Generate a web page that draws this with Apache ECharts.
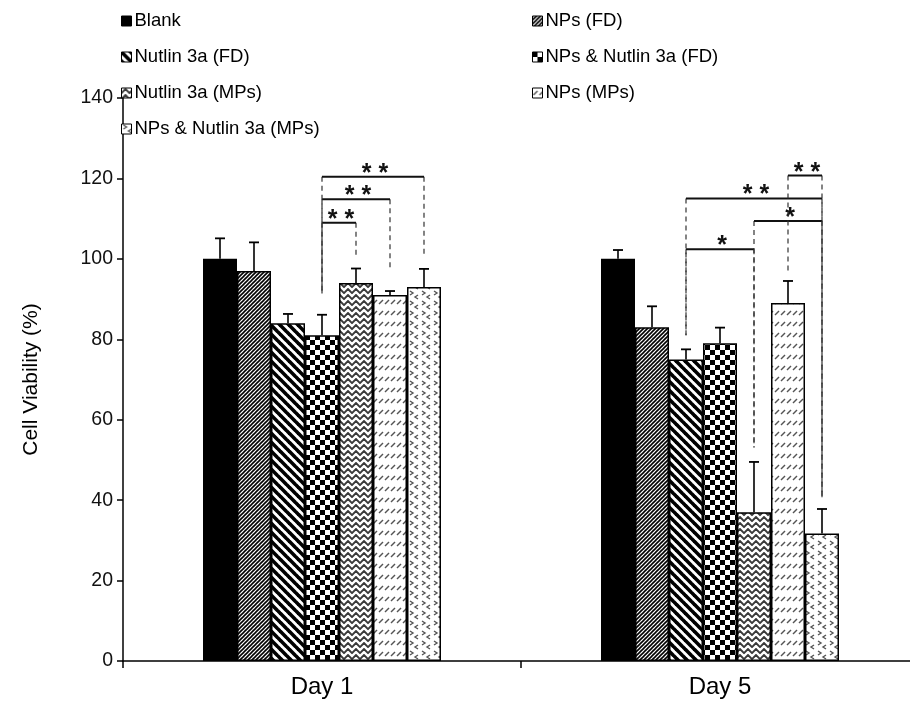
<!DOCTYPE html>
<html>
<head>
<meta charset="utf-8">
<script src="https://cdn.jsdelivr.net/npm/echarts@6/dist/echarts.min.js"></script>
<style>
html,body{margin:0;padding:0;background:#fff;}
#chart{width:910px;height:706px;}
</style>
</head>
<body>
<div id="chart"></div>
<script>
// ---- data ----
const categories = ['Day 1', 'Day 5'];
const seriesNames = ['Blank', 'NPs (FD)', 'Nutlin 3a (FD)', 'NPs & Nutlin 3a (FD)', 'Nutlin 3a (MPs)', 'NPs (MPs)', 'NPs & Nutlin 3a (MPs)'];
const blankVal = [100, 100];
const blankErr = [5.1, 2.2];
const npsFdVal = [97, 83];
const npsFdErr = [7.1, 5.2];
const nutFdVal = [84, 75];
const nutFdErr = [2.3, 2.5];
const npsNutFdVal = [81, 79];
const npsNutFdErr = [5.1, 3.9];
const nutMpVal = [94, 37];
const nutMpErr = [3.6, 12.5];
const npsMpVal = [91, 89];
const npsMpErr = [1.0, 5.5];
const npsNutMpVal = [93, 31.7];
const npsNutMpErr = [4.5, 6.1];
const yTicks = [0, 20, 40, 60, 80, 100, 120, 140];

// significance brackets (category, bar from, bar to, level, lower ends, label)
const sigCat = [0, 0, 0, 1, 1, 1, 1];
const sigFrom = [3, 3, 3, 2, 2, 4, 5];
const sigTo = [4, 5, 6, 4, 6, 6, 6];
const sigLevel = [109, 114.8, 120.4, 102.4, 115, 109.4, 120.7];
const sigFromEnd = [91.4, 91.4, 91.4, 81, 81, 53.1, 96.4];
const sigToEnd = [100.5, 97.2, 100.5, 53.1, 40.7, 40.7, 40.7];
const sigLabel = ['* *', '* *', '* *', '*', '* *', '*', '* *'];

const values = [blankVal, npsFdVal, nutFdVal, npsNutFdVal, nutMpVal, npsMpVal, npsNutMpVal];
const errors = [blankErr, npsFdErr, nutFdErr, npsNutFdErr, nutMpErr, npsMpErr, npsNutMpErr];

// ---- patterns ----
const BAR_W = 34;
function tile(w, h, draw) {
  const c = document.createElement('canvas');
  c.width = w; c.height = h;
  const g = c.getContext('2d');
  g.fillStyle = '#fff'; g.fillRect(0, 0, w, h);
  draw(g);
  return { image: c, repeat: 'repeat' };
}
function line(g, x1, y1, x2, y2) { g.beginPath(); g.moveTo(x1, y1); g.lineTo(x2, y2); g.stroke(); }
const patterns = [
  '#000',
  tile(4, 4, g => { g.strokeStyle = '#000'; g.lineWidth = 1.6;
    line(g, -1, 5, 5, -1); line(g, -3, 3, 3, -3); line(g, 1, 7, 7, 1); }),
  tile(9, 9, g => { g.strokeStyle = '#000'; g.lineWidth = 3.6;
    for (const k of [-9, 0, 9]) line(g, k - 1, -1, k + 10, 10); }),
  tile(10, 10, g => { g.fillStyle = '#000'; g.fillRect(0, 0, 5, 5); g.fillRect(5, 5, 5, 5); }),
  tile(8, 6, g => { g.strokeStyle = '#3a3a3a'; g.lineWidth = 1.9;
    g.beginPath(); g.moveTo(-2, 7); g.lineTo(0, 5); g.lineTo(4, 1); g.lineTo(8, 5); g.lineTo(10, 7); g.stroke();
    g.beginPath(); g.moveTo(-2, 1); g.lineTo(0, -1); g.stroke(); g.beginPath(); g.moveTo(8, -1); g.lineTo(10, 1); g.stroke(); }),
  tile(6, 11, g => { g.strokeStyle = '#555'; g.lineWidth = 1.5; line(g, 1, 7, 5, 3); }),
  tile(12, 10, g => { g.strokeStyle = '#555'; g.lineWidth = 1.4;
    g.beginPath(); g.moveTo(2, 1); g.lineTo(5, 3); g.lineTo(2, 5); g.stroke();
    g.beginPath(); g.moveTo(10, 5); g.lineTo(7, 7); g.lineTo(10, 9); g.stroke(); })
];

// ---- series ----
const FONT = '"Liberation Sans", Arial, sans-serif';
const series = seriesNames.map((name, k) => ({
  name, type: 'bar', barWidth: BAR_W, barGap: '0%',
  data: values[k],
  itemStyle: { color: patterns[k], borderColor: '#000', borderWidth: 1.5 },
  emphasis: { disabled: true }, z: 2
}));

const errData = [];
values.forEach((arr, k) => arr.forEach((v, c) => errData.push([c, v + errors[k][c], k, v])));

series.push({
  type: 'custom', name: 'err', z: 3, silent: true,
  encode: { x: 0, y: 1 },
  data: errData,
  renderItem(params, api) {
    const cat = api.value(0), top = api.value(1), k = api.value(2), v = api.value(3);
    const cx = api.coord([cat, 0])[0] + (k - 3) * BAR_W;
    const yb = api.coord([cat, v])[1], yt = api.coord([cat, top])[1];
    return { type: 'group', children: [
      { type: 'line', shape: { x1: cx, y1: yb, x2: cx, y2: yt }, style: { stroke: '#000', lineWidth: 1.6 } },
      { type: 'line', shape: { x1: cx - 5, y1: yt, x2: cx + 5, y2: yt }, style: { stroke: '#000', lineWidth: 1.8 } }
    ] };
  }
});

series.push({
  type: 'custom', name: 'sig', z: 4, silent: true,
  encode: { x: 0, y: 1 },
  data: sigCat.map((c, i) => [c, sigLevel[i]]),
  renderItem(params, api) {
    const i = params.dataIndex;
    const cat = sigCat[i];
    const base = api.coord([cat, 0])[0];
    const x1 = base + (sigFrom[i] - 3) * BAR_W;
    const x2 = base + (sigTo[i] - 3) * BAR_W;
    const y = api.coord([cat, sigLevel[i]])[1];
    const yA = api.coord([cat, sigFromEnd[i]])[1];
    const yB = api.coord([cat, sigToEnd[i]])[1];
    const dash = { stroke: '#333', lineWidth: 1.2, lineDash: [5, 4] };
    return { type: 'group', children: [
      { type: 'line', shape: { x1: x1, y1: y, x2: x1, y2: yA }, style: dash },
      { type: 'line', shape: { x1: x2, y1: y, x2: x2, y2: yB }, style: dash },
      { type: 'line', shape: { x1: x1, y1: y, x2: x2, y2: y }, style: { stroke: '#111', lineWidth: 2 } },
      { type: 'text', style: { text: sigLabel[i], x: (x1 + x2) / 2 + 2, y: y - 3, align: 'center', verticalAlign: 'middle',
          fontSize: 25, fontWeight: 'bold', fontFamily: FONT, fill: '#111' } }
    ] };
  }
});

const legendCommon = {
  orient: 'vertical', itemWidth: 10, itemHeight: 10, itemGap: 16, icon: 'rect',
  selectedMode: false,
  textStyle: { fontSize: 18.5, fontFamily: FONT, color: '#000', lineHeight: 20, padding: [0, 0, 0, -2] },
  itemStyle: { borderColor: '#000', borderWidth: 1 }
};

const chart = echarts.init(document.getElementById('chart'), null, { renderer: 'canvas' });
chart.setOption({
  animation: false,
  backgroundColor: '#fff',
  legend: [
    Object.assign({}, legendCommon, { left: 116, top: 6, data: [seriesNames[0], seriesNames[2], seriesNames[4], seriesNames[6]] }),
    Object.assign({}, legendCommon, { left: 527, top: 6, data: [seriesNames[1], seriesNames[3], seriesNames[5]] })
  ],
  grid: { left: 123, top: 98, width: 796, bottom: 45, containLabel: false, outerBoundsMode: 'none' },
  xAxis: {
    type: 'category', data: categories,
    axisLine: { lineStyle: { color: '#000', width: 1.5 } },
    axisTick: { show: true, length: 7, lineStyle: { color: '#000', width: 1.5 } },
    axisLabel: { fontSize: 24, fontFamily: FONT, color: '#000', margin: 14 }
  },
  yAxis: {
    type: 'value', min: yTicks[0], max: yTicks[yTicks.length - 1], interval: 20,
    name: 'Cell Viability (%)', nameLocation: 'middle', nameGap: 81, nameRotate: 90,
    nameTextStyle: { fontSize: 21, fontFamily: FONT, color: '#000' },
    axisLine: { show: true, lineStyle: { color: '#000', width: 1.5 } },
    axisTick: { show: true, length: 6, lineStyle: { color: '#000', width: 1.5 } },
    splitLine: { show: false },
    axisLabel: { fontSize: 19.5, fontFamily: FONT, color: '#111', margin: 10 }
  },
  series
});
</script>
</body>
</html>
